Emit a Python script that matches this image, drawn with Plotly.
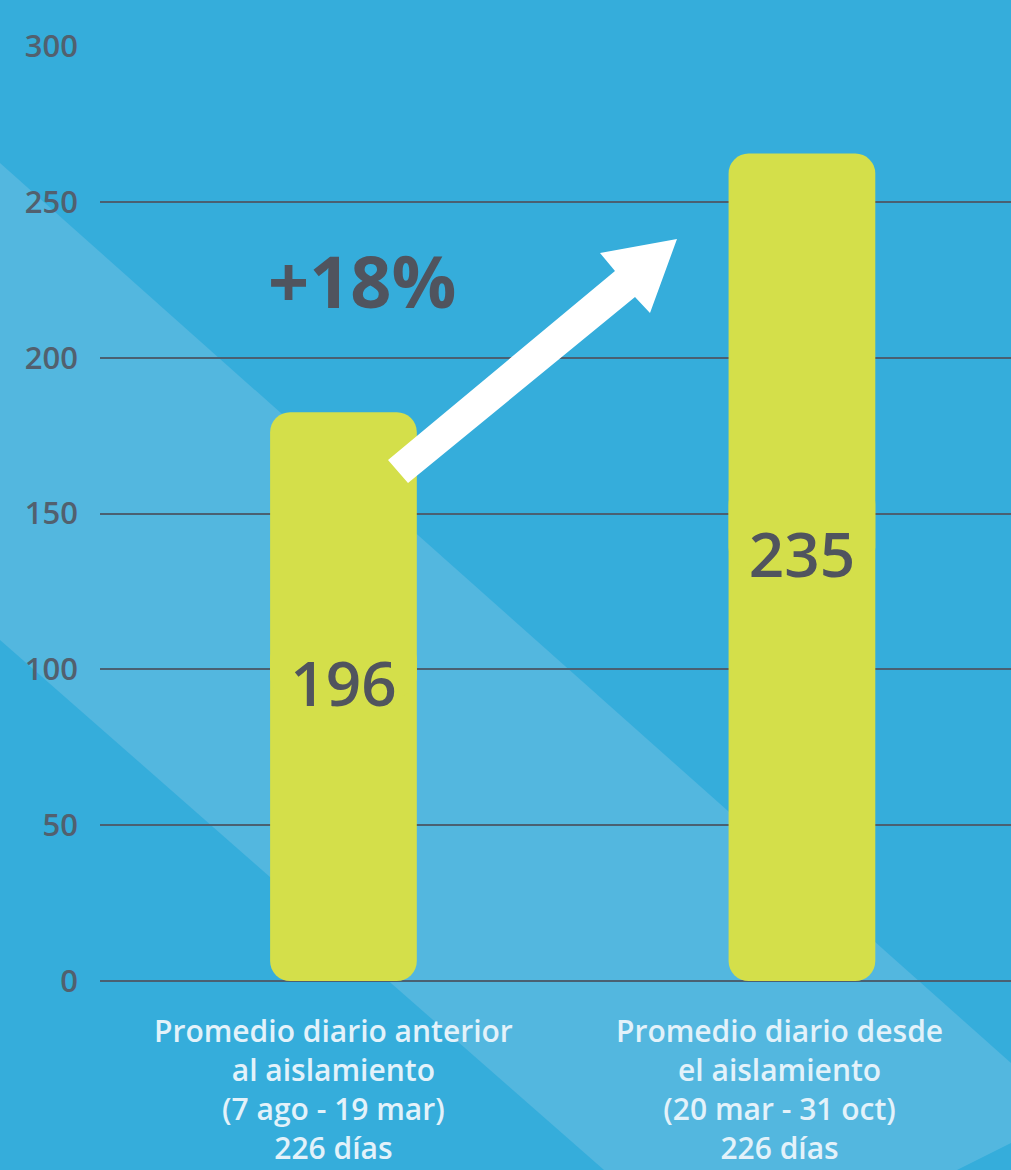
import plotly.graph_objects as go

# ---- data ----
categories = [
    "Promedio diario anterior<br>al aislamiento<br>(7 ago - 19 mar)<br>226 días",
    "Promedio diario desde<br>el aislamiento<br>(20 mar - 31 oct)<br>226 días",
]
bar_heights = [182.5, 265.5]          # drawn heights as seen in the picture
value_labels = ["196", "235"]
change_label = "+18%"
y_ticks = [0, 50, 100, 150, 200, 250, 300]

# ---- layout constants ----
W, H = 1011, 1170
L, R, T, B = 100, 0, 46, 189
PW, PH = W - L - R, H - T - B
BG_DARK = "#35ADDB"
BG_LIGHT = "#53B7DF"
BAR = "#D4DF4A"
DARK_TXT = "#50545E"
TICK_TXT = "#52606E"
GRID = "#4A6072"
LABEL_TXT = "#E3F2FA"
FONT = "Open Sans"

def px(xp, yp):
    """pixel -> paper coords"""
    return (xp - L) / PW, (H - B - yp) / PH

def path(points):
    pts = [px(a, b) for a, b in points]
    return "M " + " L ".join(f"{a:.5f},{b:.5f}" for a, b in pts) + " Z"

x_idx = list(range(len(categories)))
half_top = [h * 0.5 for h in bar_heights]
half_bot = [h * 0.6 for h in bar_heights]

fig = go.Figure()
# lower half (rounded bottom)
fig.add_trace(go.Bar(x=x_idx, y=[-v for v in half_bot], base=half_bot, width=0.32,
                     marker=dict(color=BAR, line=dict(width=0), cornerradius=20),
                     hoverinfo="skip", showlegend=False))
# upper half (rounded top)
fig.add_trace(go.Bar(x=x_idx, y=half_top, base=half_top, width=0.32,
                     marker=dict(color=BAR, line=dict(width=0), cornerradius=20),
                     hoverinfo="skip", showlegend=False))
# value labels
fig.add_trace(go.Scatter(x=x_idx, y=[h * 0.5 + 2 for h in bar_heights], mode="text",
                         text=value_labels, textposition="middle center",
                         textfont=dict(family=FONT, size=62, color=DARK_TXT, weight=600),
                         hoverinfo="skip", showlegend=False))

shapes = []
# lighter diagonal band in background
shapes.append(dict(type="path", xref="paper", yref="paper", layer="below",
                   path=path([(0, 163), (1011, 1063), (1011, 1143), (957, 1170), (604, 1170), (0, 640)]),
                   fillcolor=BG_LIGHT, line=dict(width=0)))
# white arrow
shapes.append(dict(type="path", xref="paper", yref="paper", layer="above",
                   path=path([(388, 460), (615, 271), (600, 253), (677, 239),
                              (650, 313), (635, 297), (408, 483)]),
                   fillcolor="white", line=dict(width=0)))

annotations = [
    dict(x=0.04, y=225, xref="x", yref="y", text=change_label, showarrow=False,
         font=dict(family=FONT, size=72, color=DARK_TXT, weight=700),
         xanchor="center", yanchor="middle"),
]
label_shift = [-10, -22]
for i, c in enumerate(categories):
    annotations.append(dict(x=i, y=0, xref="x", yref="paper", text=c, showarrow=False,
                            xanchor="center", yanchor="top", yshift=-27, xshift=label_shift[i],
                            font=dict(family=FONT, size=30, color=LABEL_TXT, weight=600),
                            align="center"))

fig.update_layout(
    width=W, height=H,
    margin=dict(l=L, r=R, t=T, b=B, pad=0),
    paper_bgcolor=BG_DARK, plot_bgcolor="rgba(0,0,0,0)",
    barmode="overlay",
    shapes=shapes, annotations=annotations,
    xaxis=dict(range=[-0.531, 1.456], showticklabels=False, showgrid=False,
               zeroline=False, showline=False, fixedrange=True),
    yaxis=dict(range=[0, 300], tickvals=y_ticks, ticktext=[str(v) for v in y_ticks],
               showgrid=True, gridcolor=GRID, gridwidth=2,
               zeroline=True, zerolinecolor=GRID, zerolinewidth=2,
               showline=False, ticks="", ticklabelstandoff=21,
               tickfont=dict(family=FONT, size=31, color=TICK_TXT, weight=600),
               fixedrange=True),
    font=dict(family=FONT),
)

fig.write_html("out.html", config={"displayModeBar": False})
